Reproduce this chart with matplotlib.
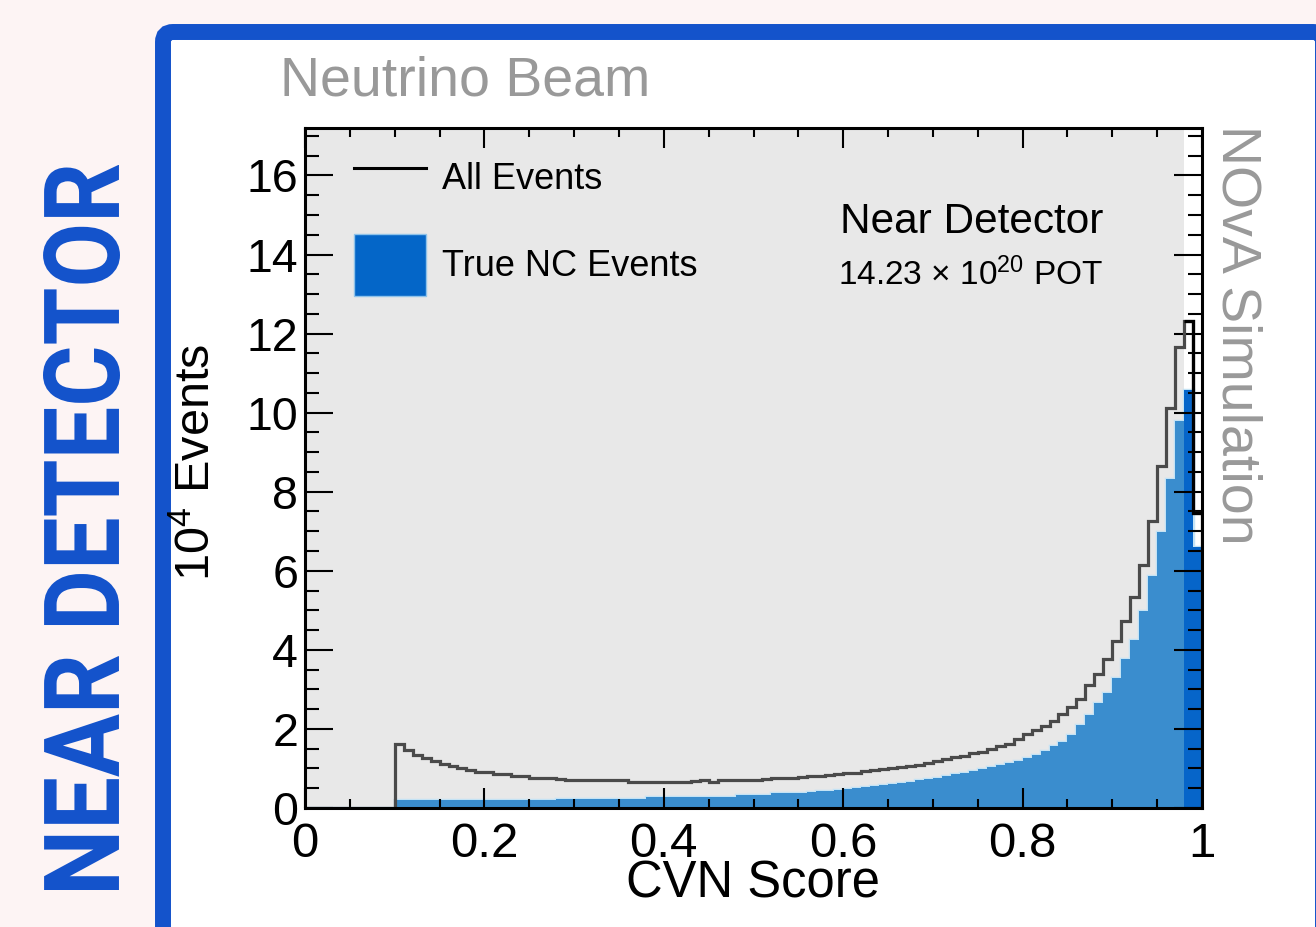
#!/usr/bin/env python3

import matplotlib
matplotlib.use("Agg")
import matplotlib.pyplot as plt
import numpy as np
from matplotlib.patches import FancyBboxPatch, PathPatch, Patch
from matplotlib.lines import Line2D
from matplotlib.textpath import TextPath
from matplotlib.font_manager import FontProperties
from matplotlib.transforms import Affine2D
from matplotlib.ticker import MultipleLocator

W, H = 1316, 927

plt.rcParams['font.family'] = ['Liberation Sans', 'DejaVu Sans']
plt.rcParams['mathtext.fontset'] = 'custom'
plt.rcParams['mathtext.rm'] = 'Liberation Sans'
plt.rcParams['mathtext.it'] = 'Liberation Sans:italic'
plt.rcParams['mathtext.bf'] = 'Liberation Sans:bold'

# CVN score histogram, 100 bins of 0.01, in units of 10^4 events
bin_edges = np.linspace(0.0, 1.0, 101)

all_events = [
    0, 0, 0, 0, 0, 0, 0, 0, 0, 0,
    1.62, 1.47, 1.35, 1.26, 1.19, 1.12, 1.05, 1.00, 0.95, 0.92,
    0.90, 0.87, 0.86, 0.82, 0.81, 0.76, 0.75, 0.75, 0.74, 0.72,
    0.71, 0.71, 0.71, 0.71, 0.71, 0.71, 0.67, 0.67, 0.67, 0.67,
    0.67, 0.67, 0.67, 0.69, 0.70, 0.67, 0.71, 0.71, 0.72, 0.72,
    0.72, 0.73, 0.76, 0.77, 0.77, 0.78, 0.81, 0.82, 0.83, 0.87,
    0.88, 0.89, 0.93, 0.95, 0.99, 1.01, 1.03, 1.07, 1.10, 1.15,
    1.18, 1.23, 1.29, 1.32, 1.38, 1.42, 1.48, 1.56, 1.63, 1.75,
    1.88, 1.97, 2.08, 2.21, 2.38, 2.56, 2.76, 3.10, 3.38, 3.76,
    4.22, 4.74, 5.33, 6.14, 7.26, 8.65, 10.13, 11.67, 12.33, 7.46,
]

true_nc = [
    0, 0, 0, 0, 0, 0, 0, 0, 0, 0,
    0.21, 0.20, 0.20, 0.20, 0.19, 0.19, 0.19, 0.19, 0.19, 0.19,
    0.19, 0.19, 0.20, 0.20, 0.20, 0.20, 0.20, 0.20, 0.23, 0.23,
    0.23, 0.23, 0.23, 0.23, 0.23, 0.23, 0.23, 0.23, 0.27, 0.27,
    0.27, 0.27, 0.27, 0.27, 0.27, 0.29, 0.29, 0.29, 0.33, 0.33,
    0.33, 0.33, 0.37, 0.37, 0.37, 0.37, 0.41, 0.42, 0.44, 0.46,
    0.48, 0.50, 0.53, 0.55, 0.58, 0.61, 0.64, 0.67, 0.70, 0.73,
    0.77, 0.81, 0.85, 0.89, 0.94, 0.99, 1.04, 1.09, 1.14, 1.20,
    1.26, 1.35, 1.43, 1.56, 1.68, 1.85, 2.11, 2.36, 2.66, 2.91,
    3.29, 3.76, 4.26, 4.98, 5.87, 6.97, 8.32, 9.78, 10.57, 6.60,
]

x_ticks = [0, 0.2, 0.4, 0.6, 0.8, 1.0]
x_tick_labels = ["0", "0.2", "0.4", "0.6", "0.8", "1"]
y_ticks = [0, 2, 4, 6, 8, 10, 12, 14, 16]
legend_labels = ["All Events", "True NC Events"]

BLUE_LIGHT = '#3a8dce'
BLUE_DARK = '#0665c9'
FRAME_BLUE = '#1453cb'


def main():
    fig = plt.figure(figsize=(W / 100, H / 100), dpi=100, facecolor='#fdf4f4')
    # image pixel coords (y down) -> figure
    pix = Affine2D().scale(1.0 / W, -1.0 / H).translate(0, 1) + fig.transFigure

    frame = FancyBboxPatch((163, 32), 1160, 1000,
                           boxstyle='round,pad=0,rounding_size=10',
                           fc='white', ec=FRAME_BLUE, lw=11.5,
                           transform=pix, zorder=-1)
    fig.add_artist(frame)

    # big condensed side title, squeezed into its box
    fp = FontProperties(family='Roboto', weight='bold')
    tp = TextPath((0, 0), 'NEAR DETECTOR', size=100, prop=fp)
    ext = tp.get_extents()
    su = 725.0 / ext.width
    sv = 77.0 / ext.height
    place = Affine2D().translate(-ext.x0, -ext.y0) + \
        Affine2D(np.array([[0, -sv, 120], [-su, 0, 890], [0, 0, 1]]))
    fig.add_artist(PathPatch(tp, transform=place + pix, fc=FRAME_BLUE,
                             ec='none', zorder=5))

    ax = fig.add_axes([305 / W, 1 - 808 / H, 897 / W, 680 / H])
    ax.set_facecolor('white')
    ax.set_axisbelow(False)
    ax.axvspan(0, 0.98, color='#e8e8e8', lw=0, zorder=0)

    nc = np.array(true_nc)
    ev = np.array(all_events)
    ax.stairs(nc, bin_edges, color='#c4e3f5', lw=2.5, baseline=None,
              zorder=1.5)
    ax.stairs(nc, bin_edges, fill=True, color=BLUE_LIGHT, zorder=2)
    ax.stairs(nc[98:], bin_edges[98:], fill=True, color=BLUE_DARK,
              zorder=2.1)
    ax.stairs(ev, bin_edges, color='#4a4a4a', lw=2.3, zorder=3)
    ax.stairs(ev[98:], bin_edges[98:], color='black', lw=2.3,
              baseline=None, zorder=3.1)

    ax.set_xlim(0, 1)
    ax.set_ylim(0, 17.2)
    ax.set_xticks(x_ticks, x_tick_labels)
    ax.set_yticks(y_ticks)
    ax.xaxis.set_minor_locator(MultipleLocator(0.05))
    ax.yaxis.set_minor_locator(MultipleLocator(0.5))
    ax.tick_params(which='both', direction='in', top=True, right=True,
                   width=1.5, colors='black')
    ax.tick_params(axis='x', which='major', length=14.5, pad=10,
                   labelsize=35.5)
    ax.tick_params(axis='x', which='minor', length=6.5)
    ax.tick_params(axis='y', which='major', length=20, pad=5,
                   labelsize=33.5)
    ax.tick_params(axis='y', which='minor', length=10)
    for s in ax.spines.values():
        s.set_linewidth(2.2)
        s.set_zorder(4)

    ax.set_xlabel('CVN Score', fontsize=36.5)
    ax.xaxis.set_label_coords(0.5, (808 - 860) / 680)
    ax.set_ylabel('$10^{4}$ Events', fontsize=35)
    ax.yaxis.set_label_coords((220 - 305) / 897, (808 - 462) / 680)

    handles = [Line2D([], [], color='black', lw=2.2),
               Patch(facecolor='#0466c8', edgecolor='#8fc3ea', lw=1)]
    ax.legend(handles, legend_labels, loc='upper left',
              bbox_to_anchor=((354 - 305) / 897, (808 - 147) / 680),
              frameon=False, fontsize=26, handlelength=2.0,
              handleheight=2.28, labelspacing=0.67, handletextpad=0.44,
              borderpad=0, borderaxespad=0)

    fig.text(280, 96, 'Neutrino Beam', transform=pix, fontsize=40,
             color='#999999', ha='left', va='baseline')
    fig.text(840, 233, 'Near Detector', transform=pix, fontsize=30.5,
             ha='left', va='baseline')
    fig.text(838, 285, '14.23 $\\times$ $10^{20}$ POT', transform=pix,
             fontsize=24, ha='left', va='baseline')
    fig.text(1236, 125, 'NOvA Simulation', transform=pix, fontsize=40,
             color='#999999', rotation=-90, ha='center', va='top')

    fig.savefig('out.png', dpi=100, facecolor=fig.get_facecolor())


if __name__ == "__main__":
    main()
